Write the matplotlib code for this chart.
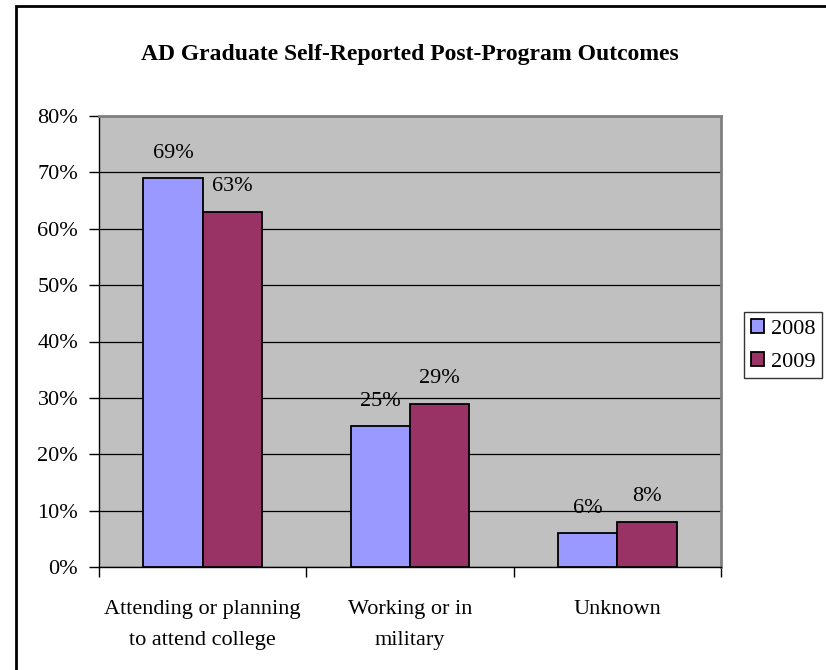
import numpy as np
import matplotlib
matplotlib.use('Agg')
import matplotlib.pyplot as plt
from matplotlib.patches import Rectangle
from matplotlib.ticker import FuncFormatter, MultipleLocator

plt.rcParams['font.family'] = ['Liberation Serif', 'DejaVu Serif']

# Data
categories = ['Attending or planning\nto attend college', 'Working or in\nmilitary', 'Unknown']
years = ['2008', '2009']
vals_2008 = [69, 25, 6]
vals_2009 = [63, 29, 8]
colors = ['#9999FF', '#993366']

fig = plt.figure(figsize=(8.26, 6.7), dpi=100)
ax = fig.add_axes([99 / 826, 1 - 567 / 670, 622 / 826, 451 / 670])

x = np.arange(len(categories))
w = 1 / 3.5
series = [vals_2008, vals_2009]
for i, (yr, vals) in enumerate(zip(years, series)):
    pos = x + (i - 0.5) * w
    bars = ax.bar(pos, vals, width=w, color=colors[i], edgecolor='black',
                  linewidth=1.3, label=yr, zorder=3)
    for b, v in zip(bars, vals):
        ax.annotate(f'{v}%', (b.get_x() + b.get_width() / 2, v),
                    xytext=(0, 25), textcoords='offset pixels',
                    ha='center', va='center', fontsize=16, zorder=4)

ax.set_facecolor('#C0C0C0')
ax.set_xlim(-0.5, 2.5)
ax.set_ylim(0, 80)
ax.yaxis.set_major_locator(MultipleLocator(10))
ax.yaxis.set_major_formatter(FuncFormatter(lambda v, p: f'{v:.0f}%'))
ax.grid(axis='y', color='black', linewidth=0.9, zorder=1)

ax.set_xticks([-0.5, 0.5, 1.5, 2.5])
ax.set_xticklabels([])
ax.set_xticks(x, minor=True)
ax.set_xticklabels(categories, minor=True, fontsize=16, linespacing=1.85)
ax.tick_params(axis='x', which='minor', length=0, pad=24)
ax.tick_params(axis='x', which='major', length=7, width=1, color='black', direction='out')
ax.tick_params(axis='y', length=7, width=1, labelsize=16, pad=8)

for s in ['top', 'right']:
    ax.spines[s].set_color('#808080')
    ax.spines[s].set_linewidth(2)
for s in ['left', 'bottom']:
    ax.spines[s].set_color('black')
    ax.spines[s].set_linewidth(1)

ax.set_title('AD Graduate Self-Reported Post-Program Outcomes', fontsize=17,
             fontweight='bold', pad=40)

leg = ax.legend(loc='upper left', bbox_to_anchor=(744 / 826, 1 - 312 / 670),
                bbox_transform=fig.transFigure, fontsize=16, frameon=True,
                fancybox=False, edgecolor='black', handlelength=0.6,
                handleheight=0.6, handletextpad=0.3, borderpad=0.3,
                labelspacing=0.6, borderaxespad=0)
leg.get_frame().set_linewidth(1)

# chart border (left and top edges visible)
fig.add_artist(Rectangle((16 / 826, -0.1), 1.2, 1 - 6 / 670 + 0.1,
                         transform=fig.transFigure, fill=False,
                         edgecolor='black', linewidth=2))

fig.savefig('out.png', dpi=100)
